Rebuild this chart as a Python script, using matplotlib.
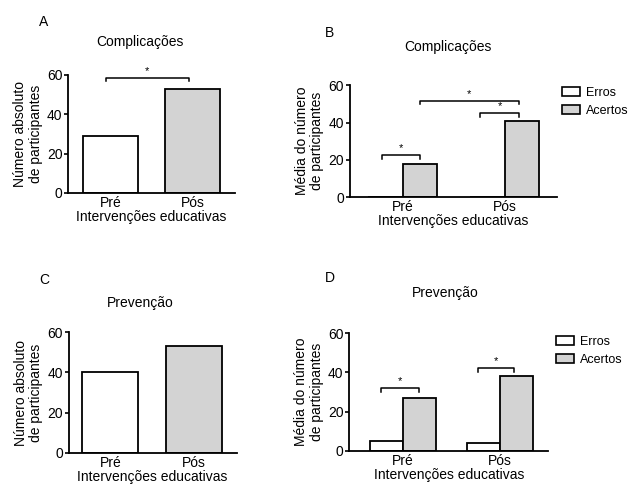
import numpy as np
import matplotlib.pyplot as plt
from matplotlib.patches import Patch

plt.rcParams['font.family'] = ['Liberation Sans', 'DejaVu Sans']

# DATA
grupos = ['Pré', 'Pós']
comp_abs = [29, 53]           # A
comp_erros = [0, 0]           # B
comp_acertos = [18, 41]
prev_abs = [40, 53]           # C
prev_erros = [5, 4]           # D
prev_acertos = [27, 38]

xlab = 'Intervenções educativas'
ylab_abs = 'Número absoluto\nde participantes'
ylab_med = 'Média do número\nde participantes'
cinza = '#d3d3d3'
fs = 10

fig = plt.figure(figsize=(6.36, 4.87), dpi=100)


def estilo(ax, ylab, xlim):
    ax.spines['top'].set_visible(False)
    ax.spines['right'].set_visible(False)
    ax.spines['left'].set_linewidth(1.3)
    ax.spines['bottom'].set_linewidth(1.3)
    ax.set_ylim(0, 60)
    ax.set_xlim(*xlim)
    ax.set_yticks([0, 20, 40, 60])
    ax.tick_params(axis='y', length=3, width=1.2, labelsize=fs, pad=1)
    ax.tick_params(axis='x', length=0, labelsize=fs, pad=2)
    ax.set_xticks(range(len(grupos)))
    ax.set_xticklabels(grupos)
    ax.set_xlabel(xlab, fontsize=fs, labelpad=0)
    ax.set_ylabel(ylab, fontsize=10, labelpad=3, linespacing=1.15,
                  family=['Liberation Sans Narrow', 'Liberation Sans', 'DejaVu Sans'])


def chave(ax, x1, x2, y, h=1.8):
    ax.plot([x1, x1, x2, x2], [y - h, y, y, y - h], color='k', lw=1.1, clip_on=False)
    ax.text((x1 + x2) / 2, y + 1.0, '*', ha='center', va='bottom', fontsize=8)


x = np.arange(len(grupos))
w2 = 0.34

# A
axA = fig.add_axes([0.107, 0.604, 0.262, 0.242])
axA.bar(x, comp_abs, width=0.67, color=['white', cinza], edgecolor='k', linewidth=1.3)
estilo(axA, ylab_abs, (-0.515, 1.51))
chave(axA, -0.05, 0.95, 58.5)
fig.text(39 / 636, 1 - 22 / 487, 'A', fontsize=10, va='center')
fig.text(140 / 636, 1 - 42 / 487, 'Complicações', fontsize=fs, ha='center', va='center')

# B
axB = fig.add_axes([0.550, 0.595, 0.325, 0.230])
axB.bar(x - w2 / 2, comp_erros, width=w2, color='white', edgecolor='k', linewidth=1.3)
axB.bar(x + w2 / 2, comp_acertos, width=w2, color=cinza, edgecolor='k', linewidth=1.3)
estilo(axB, ylab_med, (-0.52, 1.51))
chave(axB, -0.2, 0.17, 22.5)
chave(axB, 0.17, 1.14, 51.5)
chave(axB, 0.76, 1.14, 45.0)
fig.text(325 / 636, 1 - 33 / 487, 'B', fontsize=10, va='center')
fig.text(448 / 636, 1 - 47 / 487, 'Complicações', fontsize=fs, ha='center', va='center')

# C
axC = fig.add_axes([0.108, 0.070, 0.264, 0.248])
axC.bar(x, prev_abs, width=0.67, color=['white', cinza], edgecolor='k', linewidth=1.3)
estilo(axC, ylab_abs, (-0.5, 1.51))
fig.text(39 / 636, 1 - 280 / 487, 'C', fontsize=10, va='center')
fig.text(140 / 636, 1 - 303 / 487, 'Prevenção', fontsize=fs, ha='center', va='center')

# D
axD = fig.add_axes([0.549, 0.074, 0.313, 0.242])
axD.bar(x - w2 / 2, prev_erros, width=w2, color='white', edgecolor='k', linewidth=1.3)
axD.bar(x + w2 / 2, prev_acertos, width=w2, color=cinza, edgecolor='k', linewidth=1.3)
estilo(axD, ylab_med, (-0.55, 1.5))
chave(axD, -0.22, 0.17, 32.0)
chave(axD, 0.78, 1.15, 42.0)
fig.text(325 / 636, 1 - 278 / 487, 'D', fontsize=10, va='center')
fig.text(445 / 636, 1 - 293 / 487, 'Prevenção', fontsize=fs, ha='center', va='center')

handles = [Patch(facecolor='white', edgecolor='k', linewidth=1.2, label='Erros'),
           Patch(facecolor=cinza, edgecolor='k', linewidth=1.2, label='Acertos')]
leg_kw = dict(loc='upper left', frameon=False, fontsize=9, handlelength=1.45, handleheight=0.75,
              handletextpad=0.45, labelspacing=0.45, borderaxespad=0, borderpad=0)
fig.legend(handles=handles, bbox_to_anchor=(562 / 636, 1 - 87 / 487), **leg_kw)
fig.legend(handles=handles, bbox_to_anchor=(556 / 636, 1 - 336 / 487), **leg_kw)

fig.savefig('out.png', dpi=100, facecolor='white')
